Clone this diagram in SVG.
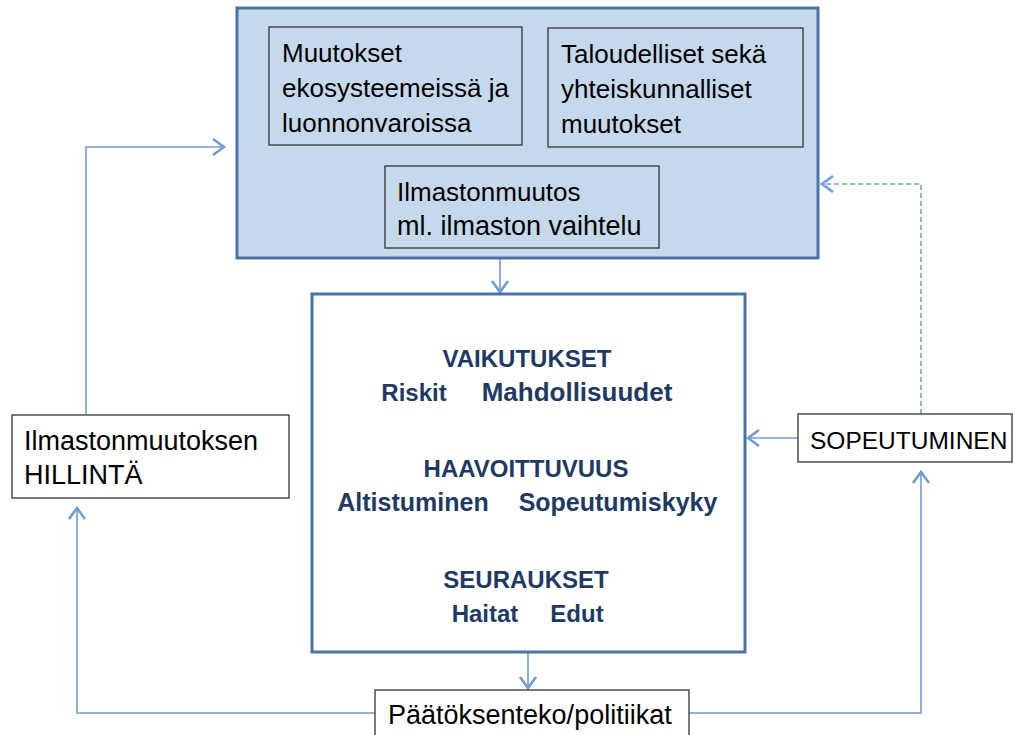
<svg xmlns="http://www.w3.org/2000/svg" width="1013" height="735" viewBox="0 0 1013 735">
<style>
.bg{fill:#ffffff}
.outer{fill:#c6d9ec;stroke:#4a72a6;stroke-width:3}
.mid{fill:#ffffff;stroke:#4a72a6;stroke-width:3}
.inner{fill:#c6d9ec;stroke:#333333;stroke-width:1.3}
.plain{fill:#ffffff;stroke:#333333;stroke-width:1.3}
.t{font-family:"Liberation Sans",Arial,sans-serif;font-size:26px;fill:#000000}
.b{font-family:"Liberation Sans",Arial,sans-serif;font-size:24px;font-weight:bold;fill:#1f3a62;text-anchor:middle}
.c{fill:none;stroke:#6f9dd3;stroke-width:1.6}
.d{stroke-dasharray:5 3}
</style>
<defs>
<marker id="ah" markerUnits="userSpaceOnUse" markerWidth="30" markerHeight="30" refX="15" refY="15" orient="auto" overflow="visible">
<path d="M4,7 L15,15 L4,23" fill="none" stroke="#6f9dd3" stroke-width="2.6" stroke-linejoin="miter"/>
</marker>
</defs>
<rect class="bg" x="0" y="0" width="1013" height="735"/>

<g id="connectors">
<path class="c" d="M500,258 L500,292" marker-end="url(#ah)"/>
<path class="c" d="M528,652 L528,688" marker-end="url(#ah)"/>
<path class="c" d="M86,414 L86,147 L224,147" marker-end="url(#ah)"/>
<path class="c" d="M375,713 L77,713 L77,508" marker-end="url(#ah)"/>
<path class="c" d="M689,713 L921,713 L921,472" marker-end="url(#ah)"/>
<path class="c" d="M798,438 L748,438" marker-end="url(#ah)"/>
<path class="c d" d="M921,414 L921,184 L822,184" marker-end="url(#ah)"/>
</g>

<g id="top-box">
<rect class="outer" x="237" y="8" width="581" height="250"/>
</g>
<g id="ekosysteemit">
<rect class="inner" x="269" y="27" width="253" height="118"/>
<text class="t" x="282" y="62">Muutokset</text>
<text class="t" x="282" y="97">ekosysteemeissä ja</text>
<text class="t" x="282" y="132">luonnonvaroissa</text>
</g>
<g id="taloudelliset">
<rect class="inner" x="548" y="28" width="255" height="119"/>
<text class="t" x="561" y="63">Taloudelliset sekä</text>
<text class="t" x="561" y="98">yhteiskunnalliset</text>
<text class="t" x="561" y="133">muutokset</text>
</g>
<g id="ilmastonmuutos">
<rect class="inner" x="385" y="166" width="274" height="82"/>
<text class="t" x="397" y="201">Ilmastonmuutos</text>
<text class="t" x="397" y="235" style="font-size:27px">ml. ilmaston vaihtelu</text>
</g>

<g id="vaikutukset">
<rect class="mid" x="312" y="294" width="433" height="358"/>
<text class="b" x="527" y="367">VAIKUTUKSET</text>
<text class="b" x="414" y="401">Riskit</text>
<text class="b" x="577" y="401" style="font-size:26px">Mahdollisuudet</text>
<text class="b" x="526" y="477">HAAVOITTUVUUS</text>
<text class="b" x="413" y="511" style="font-size:25px">Altistuminen</text>
<text class="b" x="618" y="511" style="font-size:25px">Sopeutumiskyky</text>
<text class="b" x="526" y="588">SEURAUKSET</text>
<text class="b" x="485" y="622">Haitat</text>
<text class="b" x="577" y="622">Edut</text>
</g>

<g id="hillinta">
<rect class="plain" x="12" y="415" width="277" height="83"/>
<text class="t" x="24" y="450" style="font-size:27px">Ilmastonmuutoksen</text>
<text class="t" x="24" y="484" style="font-size:27px">HILLINTÄ</text>
</g>

<g id="sopeutuminen">
<rect class="plain" x="798" y="414" width="214" height="48"/>
<text class="t" x="810" y="449" style="font-size:24.5px">SOPEUTUMINEN</text>
</g>

<g id="paatoksenteko">
<rect class="plain" x="375" y="690" width="314" height="50"/>
<text class="t" x="388" y="724" style="font-size:27px">Päätöksenteko/politiikat</text>
</g>
</svg>
